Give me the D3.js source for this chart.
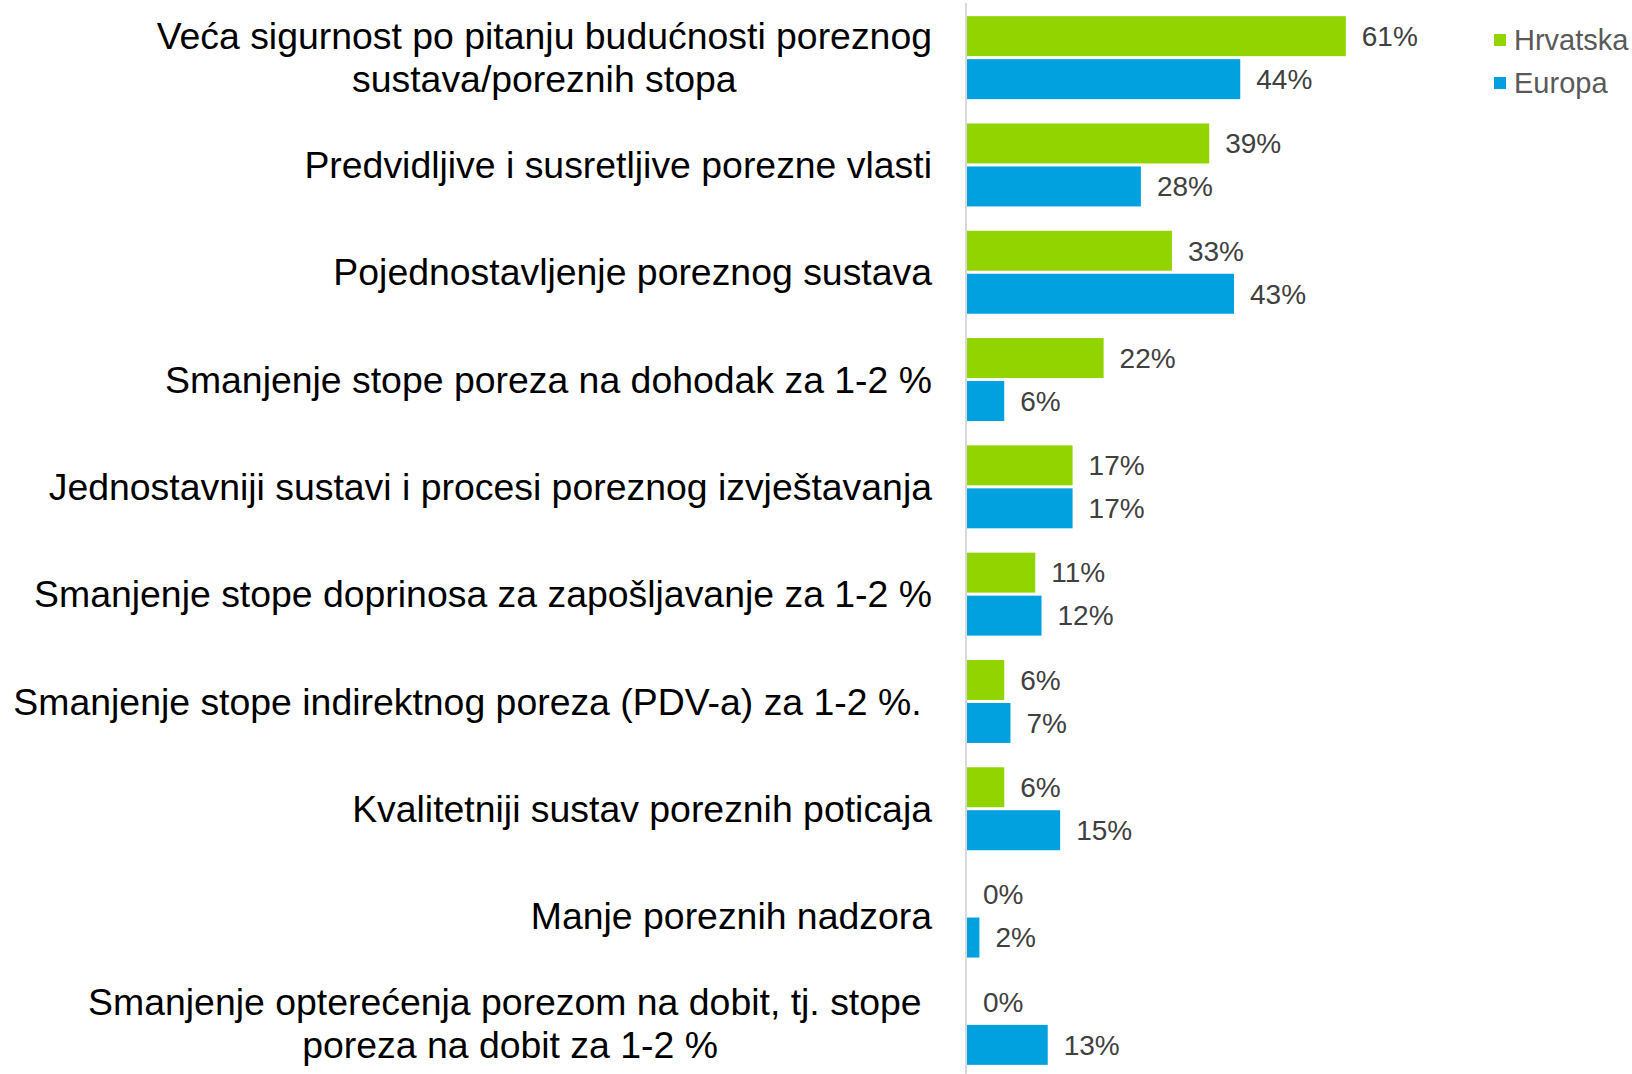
<html>
<head>
<script src="https://d3js.org/d3.v7.min.js"></script>
<style>
    body { margin: 0; background-color: #fff; }
    svg text { font-family: 'Liberation Sans', Arial, sans-serif; white-space: pre; }
</style>
</head>
<body>
<svg width="1632" height="1074"></svg>
<script type="text/javascript">
    var categories = [
        ["Veća sigurnost po pitanju budućnosti poreznog", "sustava/poreznih stopa"],
        ["Predvidljive i susretljive porezne vlasti"],
        ["Pojednostavljenje poreznog sustava"],
        ["Smanjenje stope poreza na dohodak za 1-2 %"],
        ["Jednostavniji sustavi i procesi poreznog izvještavanja"],
        ["Smanjenje stope doprinosa za zapošljavanje za 1-2 %"],
        ["Smanjenje stope indirektnog poreza (PDV-a) za 1-2 %. "],
        ["Kvalitetniji sustav poreznih poticaja"],
        ["Manje poreznih nadzora"],
        ["Smanjenje opterećenja porezom na dobit, tj. stope ", "poreza na dobit za 1-2 %"]
    ];
    var seriesNames = ["Hrvatska", "Europa"];
    var hrvatska = [61, 39, 33, 22, 17, 11, 6, 6, 0, 0];
    var europa = [44, 28, 43, 6, 17, 12, 7, 15, 2, 13];
    var colors = ["#92D400", "#00A1DE"];

    var svg = d3.select("svg");
    var series = [hrvatska, europa];

    var y = d3.scaleBand()
        .domain(d3.range(categories.length))
        .range([4, 1077]);

    var ySub = d3.scaleBand()
        .domain(seriesNames)
        .range([0, y.bandwidth()])
        .paddingInner(0.07)
        .paddingOuter(0.283);

    var x = d3.scaleLinear()
        .domain([0, 100])
        .range([967, 1588]);

    var groups = svg.append("g").selectAll("g")
        .data(categories)
        .enter().append("g")
        .attr("transform", function(d, i) { return "translate(0," + y(i) + ")"; });

    seriesNames.forEach(function(name, s) {
        groups.append("rect")
            .attr("x", x(0))
            .attr("y", ySub(name))
            .attr("height", ySub.bandwidth())
            .attr("width", function(d, i) { return x(series[s][i]) - x(0); })
            .attr("fill", colors[s]);

        groups.append("text")
            .attr("x", function(d, i) { return x(series[s][i]) + 16; })
            .attr("y", ySub(name) + ySub.bandwidth() / 2)
            .attr("dy", "0.35em")
            .attr("fill", "#404040")
            .style("font-size", "28px")
            .text(function(d, i) { return series[s][i] + "%"; });
    });

    // category labels, multi-line ones centred on their widest line
    var labelRight = 932, lineH = 42.7;
    groups.each(function(lines) {
        var g = d3.select(this);
        var t = g.append("text")
            .attr("fill", "#000")
            .style("font-size", "37.4px");
        var spans = lines.map(function(l, k) {
            return t.append("tspan")
                .attr("y", y.bandwidth() / 2 + (k - (lines.length - 1) / 2) * lineH)
                .attr("dy", "0.35em")
                .text(l);
        });
        if (lines.length === 1) {
            t.attr("text-anchor", "end");
            spans[0].attr("x", labelRight);
        } else {
            var maxW = d3.max(spans, function(sp) { return sp.node().getComputedTextLength(); });
            t.attr("text-anchor", "middle");
            spans.forEach(function(sp) { sp.attr("x", labelRight - maxW / 2); });
        }
    });

    // axis line
    svg.append("line")
        .attr("x1", 966).attr("x2", 966)
        .attr("y1", 3).attr("y2", 1074)
        .attr("stroke", "#D9D9D9")
        .attr("stroke-width", 2);

    // legend
    var legend = svg.append("g").selectAll("g")
        .data(seriesNames)
        .enter().append("g")
        .attr("transform", function(d, i) { return "translate(1494," + (40 + i * 43) + ")"; });
    legend.append("rect")
        .attr("x", 0).attr("y", -6)
        .attr("width", 12).attr("height", 12)
        .attr("fill", function(d, i) { return colors[i]; });
    legend.append("text")
        .attr("x", 20)
        .attr("dy", "0.35em")
        .attr("fill", "#595959")
        .style("font-size", "29px")
        .text(function(d) { return d; });
</script>
</body>
</html>
